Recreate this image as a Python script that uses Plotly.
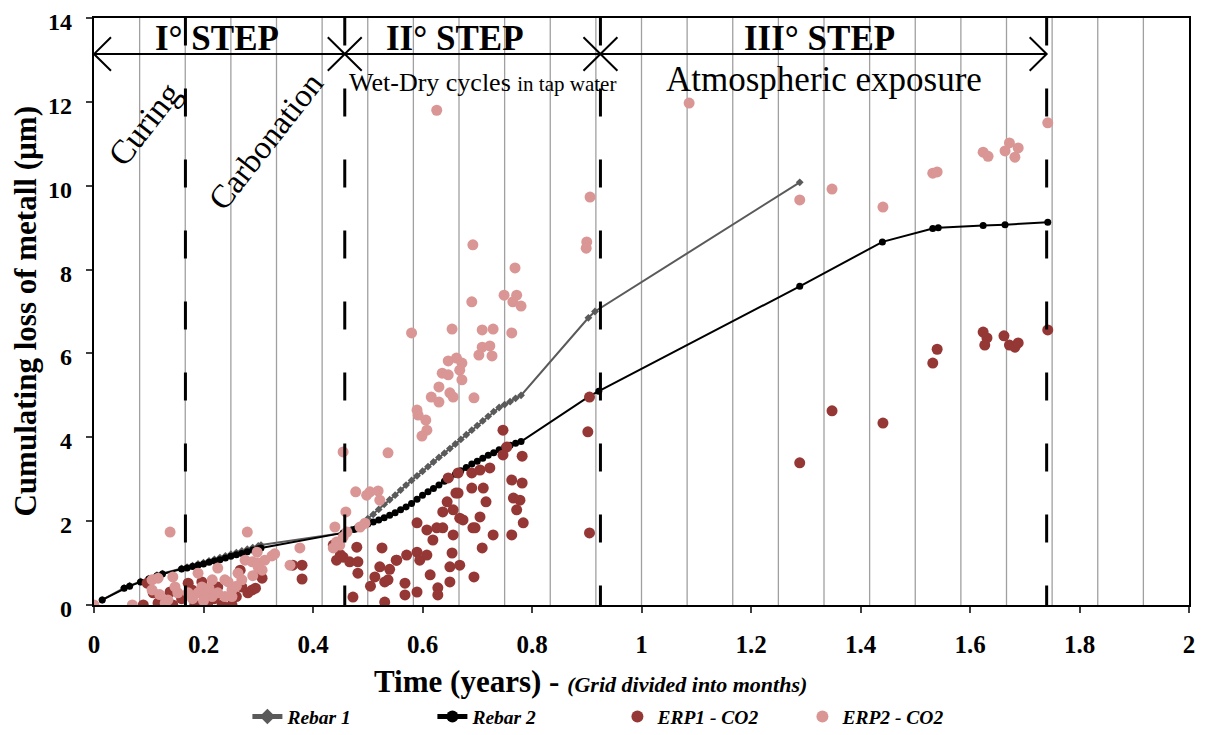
import plotly.graph_objects as go

# ---------------- data ----------------
rebar1_x = [0.015, 0.055, 0.065, 0.085, 0.10, 0.115, 0.125, 0.16, 0.17, 0.18, 0.19, 0.20, 0.21, 0.22,
            0.23, 0.24, 0.25, 0.26, 0.27, 0.28, 0.29, 0.30, 0.305, 0.455, 0.47, 0.48, 0.49, 0.50,
            0.51, 0.52, 0.53, 0.54, 0.55, 0.56, 0.57, 0.58, 0.59, 0.60, 0.61, 0.62, 0.63, 0.64,
            0.65, 0.66, 0.67, 0.68, 0.69, 0.70, 0.71, 0.72, 0.73, 0.74, 0.75, 0.76, 0.77, 0.78,
            0.903, 0.915, 1.289]
rebar1_y = [0.12, 0.41, 0.46, 0.56, 0.63, 0.71, 0.75, 0.87, 0.90, 0.94, 0.98, 1.01, 1.05, 1.09,
            1.13, 1.17, 1.21, 1.25, 1.29, 1.33, 1.37, 1.41, 1.43, 1.72, 1.80, 1.86, 1.95, 2.06,
            2.16, 2.28, 2.40, 2.51, 2.62, 2.74, 2.86, 2.97, 3.08, 3.19, 3.30, 3.41, 3.52, 3.62,
            3.73, 3.84, 3.95, 4.06, 4.17, 4.28, 4.39, 4.50, 4.61, 4.71, 4.78, 4.85, 4.93, 5.00,
            6.85, 7.00, 10.08]

rebar2_x = [0.015, 0.055, 0.065, 0.085, 0.10, 0.115, 0.125, 0.16, 0.17, 0.18, 0.19, 0.20, 0.21, 0.22,
            0.23, 0.24, 0.25, 0.26, 0.27, 0.28, 0.29, 0.30, 0.305, 0.455, 0.465, 0.475, 0.48, 0.49,
            0.50, 0.51, 0.52, 0.53, 0.54, 0.55, 0.56, 0.57, 0.58, 0.59, 0.60, 0.61, 0.62, 0.63,
            0.64, 0.65, 0.66, 0.67, 0.68, 0.69, 0.70, 0.71, 0.72, 0.73, 0.74, 0.75, 0.76, 0.77,
            0.78, 0.905, 0.922, 1.289, 1.44, 1.532, 1.542, 1.624, 1.664, 1.742]
rebar2_y = [0.12, 0.40, 0.45, 0.55, 0.62, 0.70, 0.74, 0.86, 0.88, 0.92, 0.95, 0.98, 1.02, 1.05,
            1.08, 1.12, 1.16, 1.20, 1.23, 1.27, 1.31, 1.34, 1.36, 1.72, 1.76, 1.80, 1.82, 1.87,
            1.93, 1.98, 2.03, 2.08, 2.14, 2.20, 2.27, 2.34, 2.42, 2.52, 2.62, 2.70, 2.78, 2.86,
            2.95, 3.03, 3.12, 3.20, 3.28, 3.36, 3.43, 3.50, 3.57, 3.63, 3.70, 3.76, 3.81, 3.86,
            3.90, 4.98, 5.10, 7.60, 8.66, 8.98, 9.00, 9.05, 9.07, 9.13]

erp1_x = [0.09, 0.108, 0.097, 0.117, 0.144, 0.139, 0.172, 0.179, 0.197, 0.184, 0.208, 0.226, 0.252,
          0.27, 0.281, 0.289, 0.307, 0.38, 0.38, 0.267, 0.208, 0.234, 0.363, 0.16, 0.22, 0.26, 0.295,
          0.30,
          0.437, 0.443, 0.455, 0.467, 0.48, 0.482, 0.482, 0.473, 0.526, 0.522, 0.513, 0.531, 0.531,
          0.537, 0.553, 0.571, 0.568, 0.568, 0.59, 0.59, 0.59, 0.595, 0.608, 0.608, 0.614, 0.619,
          0.626, 0.637, 0.628, 0.628, 0.637, 0.645, 0.656, 0.656, 0.654, 0.65, 0.65, 0.668, 0.668,
          0.647, 0.665, 0.665, 0.674, 0.69, 0.692, 0.694, 0.69, 0.705, 0.709, 0.705, 0.711, 0.716,
          0.723, 0.729, 0.747, 0.754, 0.747, 0.763, 0.782, 0.782, 0.766, 0.778, 0.772, 0.784, 0.763,
          0.661, 0.696, 0.552, 0.45, 0.505, 0.54,
          0.905, 0.902, 0.905,
          1.289, 1.348, 1.441, 1.532, 1.54, 1.624, 1.631, 1.627, 1.662, 1.672, 1.682, 1.688, 1.742]
erp1_y = [0.0, 0.29, 0.52, 0.05, 0.0, 0.31, 0.52, 0.36, 0.55, 0.0, 0.05, 0.43, 0.0,
          0.43, 0.29, 0.36, 0.64, 0.95, 0.62, 0.83, 0.29, 0.0, 0.95, 0.15, 0.15, 0.2, 0.4,
          0.75,
          1.43, 1.07, 1.14, 1.03, 1.38, 1.03, 0.76, 0.19, 1.36, 0.91, 0.67, 0.55, 0.07,
          0.60, 1.07, 1.19, 0.52, 0.24, 1.26, 1.96, 0.31, 1.07, 1.79, 1.19, 0.72, 1.55,
          1.84, 1.84, 0.41, 0.24, 2.22, 2.46, 2.27, 1.67, 1.24, 0.91, 0.55, 2.07, 0.95,
          3.03, 2.67, 3.15, 2.03, 2.79, 1.84, 0.67, 3.15, 3.22, 1.36, 2.10, 2.79, 2.46,
          3.27, 1.67, 4.17, 3.77, 3.58, 2.98, 3.55, 2.91, 2.55, 2.50, 2.27, 1.96, 1.67,
          2.67, 1.84, 1.07, 1.2, 0.45, 0.85,
          4.96, 4.13, 1.72,
          3.39, 4.63, 4.34, 5.77, 6.10, 6.51, 6.37, 6.20, 6.42, 6.20, 6.15, 6.25, 6.56]

erp2_x = [0.0, 0.07, 0.139, 0.28, 0.376, 0.358, 0.106, 0.117, 0.144, 0.19, 0.226, 0.263, 0.276,
          0.289, 0.30, 0.312, 0.325, 0.307, 0.27, 0.252, 0.239, 0.216, 0.197, 0.19, 0.172, 0.153,
          0.135, 0.13, 0.226, 0.239, 0.252, 0.216, 0.203, 0.106, 0.148, 0.20, 0.18, 0.21, 0.26,
          0.29, 0.30, 0.12, 0.298, 0.33, 0.245,
          0.455, 0.537, 0.478, 0.504, 0.519, 0.522, 0.498, 0.46, 0.44, 0.462, 0.486, 0.495, 0.437,
          0.449, 0.455, 0.443,
          0.692, 0.769, 0.69, 0.749, 0.772, 0.765, 0.78, 0.58, 0.654, 0.709, 0.729, 0.763, 0.709,
          0.723, 0.703, 0.727, 0.647, 0.662, 0.672, 0.668, 0.636, 0.647, 0.672, 0.63, 0.616, 0.63,
          0.65, 0.656, 0.694, 0.59, 0.592, 0.606, 0.608, 0.599, 0.626,
          0.906, 0.90, 0.899,
          1.087, 1.289, 1.348, 1.441, 1.532, 1.54, 1.624, 1.633, 1.664, 1.672, 1.688, 1.682, 1.742]
erp2_y = [0.0, 0.0, 1.74, 1.74, 1.36, 0.95, 0.60, 0.64, 0.67, 0.76, 0.88, 0.76, 1.07,
          1.03, 1.00, 1.07, 1.17, 0.83, 0.60, 0.36, 0.60, 0.60, 0.43, 0.29, 0.29, 0.29,
          0.12, 0.05, 0.29, 0.20, 0.20, 0.20, 0.29, 0.36, 0.43, 0.10, 0.15, 0.40, 0.45,
          0.70, 0.90, 0.25, 1.26, 1.22, 0.55,
          3.65, 3.63, 2.70, 2.70, 2.72, 2.50, 2.62, 2.22, 1.86, 1.74, 1.86, 1.95, 1.36,
          1.43, 1.62, 1.50,
          8.59, 8.04, 7.23, 7.39, 7.39, 7.23, 7.13, 6.49, 6.58, 6.56, 6.58, 6.49, 6.15,
          6.18, 5.96, 5.94, 5.82, 5.89, 5.77, 5.60, 5.53, 5.49, 5.37, 5.20, 4.96, 4.84,
          5.06, 4.96, 4.94, 4.65, 4.53, 4.41, 4.17, 4.03, 11.80,
          9.73, 8.66, 8.51,
          11.97, 9.66, 9.92, 9.49, 10.30, 10.33, 10.80, 10.70, 10.83, 11.02, 10.90, 10.68, 11.50]

phase_bounds = [0.167, 0.458, 0.925, 1.74]
step_labels = ["I° STEP", "II° STEP", "III° STEP"]
step_label_x = [0.224, 0.66, 1.325]
x_ticks = [0, 0.2, 0.4, 0.6, 0.8, 1, 1.2, 1.4, 1.6, 1.8, 2]
y_ticks = [0, 2, 4, 6, 8, 10, 12, 14]

SERIF = "Liberation Serif"

fig = go.Figure()
fig.add_trace(go.Scatter(x=rebar1_x, y=rebar1_y, mode="lines+markers", name="Rebar 1",
                         line=dict(color="#5a5a5a", width=2),
                         marker=dict(symbol="diamond", size=6, color="#5a5a5a")))
fig.add_trace(go.Scatter(x=rebar2_x, y=rebar2_y, mode="lines+markers", name="Rebar 2",
                         line=dict(color="black", width=2),
                         marker=dict(symbol="circle", size=7, color="black")))
fig.add_trace(go.Scatter(x=erp1_x, y=erp1_y, mode="markers", name="ERP1 - CO2",
                         marker=dict(symbol="circle", size=11, color="#953735")))
fig.add_trace(go.Scatter(x=erp2_x, y=erp2_y, mode="markers", name="ERP2 - CO2",
                         marker=dict(symbol="circle", size=11, color="#d99694")))

shapes = []
# monthly grid
for k in range(1, 24):
    shapes.append(dict(type="line", xref="x", yref="y", x0=k / 12, x1=k / 12, y0=0, y1=14,
                       line=dict(color="#a0a0a0", width=1.3), layer="below"))
# phase dashed lines
for xb in phase_bounds:
    shapes.append(dict(type="line", xref="x", yref="y", x0=xb, x1=xb, y0=-0.2, y1=14,
                       line=dict(color="black", width=3, dash="28px,43px"), layer="above"))
# arrow line
ay = 13.14
dx, dy = 0.031, 0.40
shapes.append(dict(type="line", xref="x", yref="y", x0=0, x1=phase_bounds[-1], y0=ay, y1=ay,
                   line=dict(color="black", width=2)))
shapes.append(dict(type="path", xref="x", yref="y",
                   path=f"M {dx},{ay + dy} L 0,{ay} L {dx},{ay - dy}",
                   line=dict(color="black", width=2)))
xe = phase_bounds[-1]
shapes.append(dict(type="path", xref="x", yref="y",
                   path=f"M {xe - dx},{ay + dy} L {xe},{ay} L {xe - dx},{ay - dy}",
                   line=dict(color="black", width=2)))
for xc in phase_bounds[1:3]:
    shapes.append(dict(type="path", xref="x", yref="y",
                       path=f"M {xc - dx},{ay + dy} L {xc + dx},{ay - dy} M {xc - dx},{ay - dy} L {xc + dx},{ay + dy}",
                       line=dict(color="black", width=2)))

annotations = []
for lab, lx in zip(step_labels, step_label_x):
    annotations.append(dict(x=lx, y=13.52, xref="x", yref="y", text=f"<b>{lab}</b>", showarrow=False,
                            xanchor="center", yanchor="middle",
                            font=dict(family=SERIF, size=35, color="black")))
annotations.append(dict(x=0.462, y=12.47, xref="x", yref="y", xanchor="left", yanchor="middle",
                        showarrow=False,
                        text="Wet-Dry cycles <span style='font-size:21px'>in tap water</span>",
                        font=dict(family=SERIF, size=26, color="black")))
annotations.append(dict(x=1.333, y=12.54, xref="x", yref="y", showarrow=False,
                        xanchor="center", yanchor="middle",
                        text="Atmospheric exposure",
                        font=dict(family=SERIF, size=35, color="black")))
annotations.append(dict(x=0.091, y=11.47, xref="x", yref="y", showarrow=False, text="Curing",
                        xanchor="center", yanchor="middle",
                        textangle=-52, font=dict(family=SERIF, size=34, color="black")))
annotations.append(dict(x=0.314, y=11.07, xref="x", yref="y", showarrow=False, text="Carbonation",
                        xanchor="center", yanchor="middle",
                        textangle=-52, font=dict(family=SERIF, size=33, color="black")))
# y tick labels (drawn as text so they sit slightly below their ticks, as in the reference)
for v in y_ticks:
    annotations.append(dict(x=0, y=v, xref="paper", yref="y", showarrow=False,
                            xanchor="right", yanchor="middle", xshift=-21, yshift=-4,
                            text=f"<b>{v}</b>", borderpad=0,
                            font=dict(family=SERIF, size=24, color="black")))
# axis titles
annotations.append(dict(x=-0.063, y=0.5, xref="paper", yref="paper", showarrow=False,
                        xanchor="center", yanchor="middle",
                        text="<b>Cumulating loss of metall (µm)</b>", textangle=-90,
                        font=dict(family=SERIF, size=31, color="black")))
annotations.append(dict(x=0.453, y=-0.131, xref="paper", yref="paper", showarrow=False,
                        xanchor="center", yanchor="middle",
                        text="<b>Time (years) - </b><b><i><span style='font-size:22px'>(Grid divided into months)</span></i></b>",
                        font=dict(family=SERIF, size=31, color="black")))

# the page body has an 8px margin, so the figure is 8px smaller than the window
fig.update_layout(
    template="none",
    width=1203, height=727,
    margin=dict(l=86, r=22, t=10, b=130),
    paper_bgcolor="white", plot_bgcolor="white",
    shapes=shapes, annotations=annotations,
    showlegend=True,
    legend=dict(orientation="h", xref="paper", x=0.478, xanchor="center",
                yref="container", y=0.025, yanchor="middle",
                font=dict(family=SERIF, size=19.5, color="black", weight="bold", style="italic"),
                entrywidth=140, itemsizing="constant", bgcolor="rgba(0,0,0,0)"),
    xaxis=dict(range=[0, 2], tickvals=x_ticks, ticktext=[f"{v:g}" for v in x_ticks],
               showgrid=False, zeroline=False, automargin=False,
               showline=True, linecolor="black", linewidth=2, mirror=True,
               ticks="outside", ticklen=6, tickwidth=2, tickcolor="#404040",
               ticklabelstandoff=10, ticklabeloverflow="allow",
               tickfont=dict(family=SERIF, size=25, color="black", weight="bold")),
    yaxis=dict(range=[0, 14], tickvals=y_ticks, showticklabels=False,
               showgrid=False, zeroline=False, automargin=False,
               showline=True, linecolor="black", linewidth=2, mirror=True,
               ticks="outside", ticklen=6, tickwidth=2, tickcolor="#404040"),
)

fig.write_html("out.html")
